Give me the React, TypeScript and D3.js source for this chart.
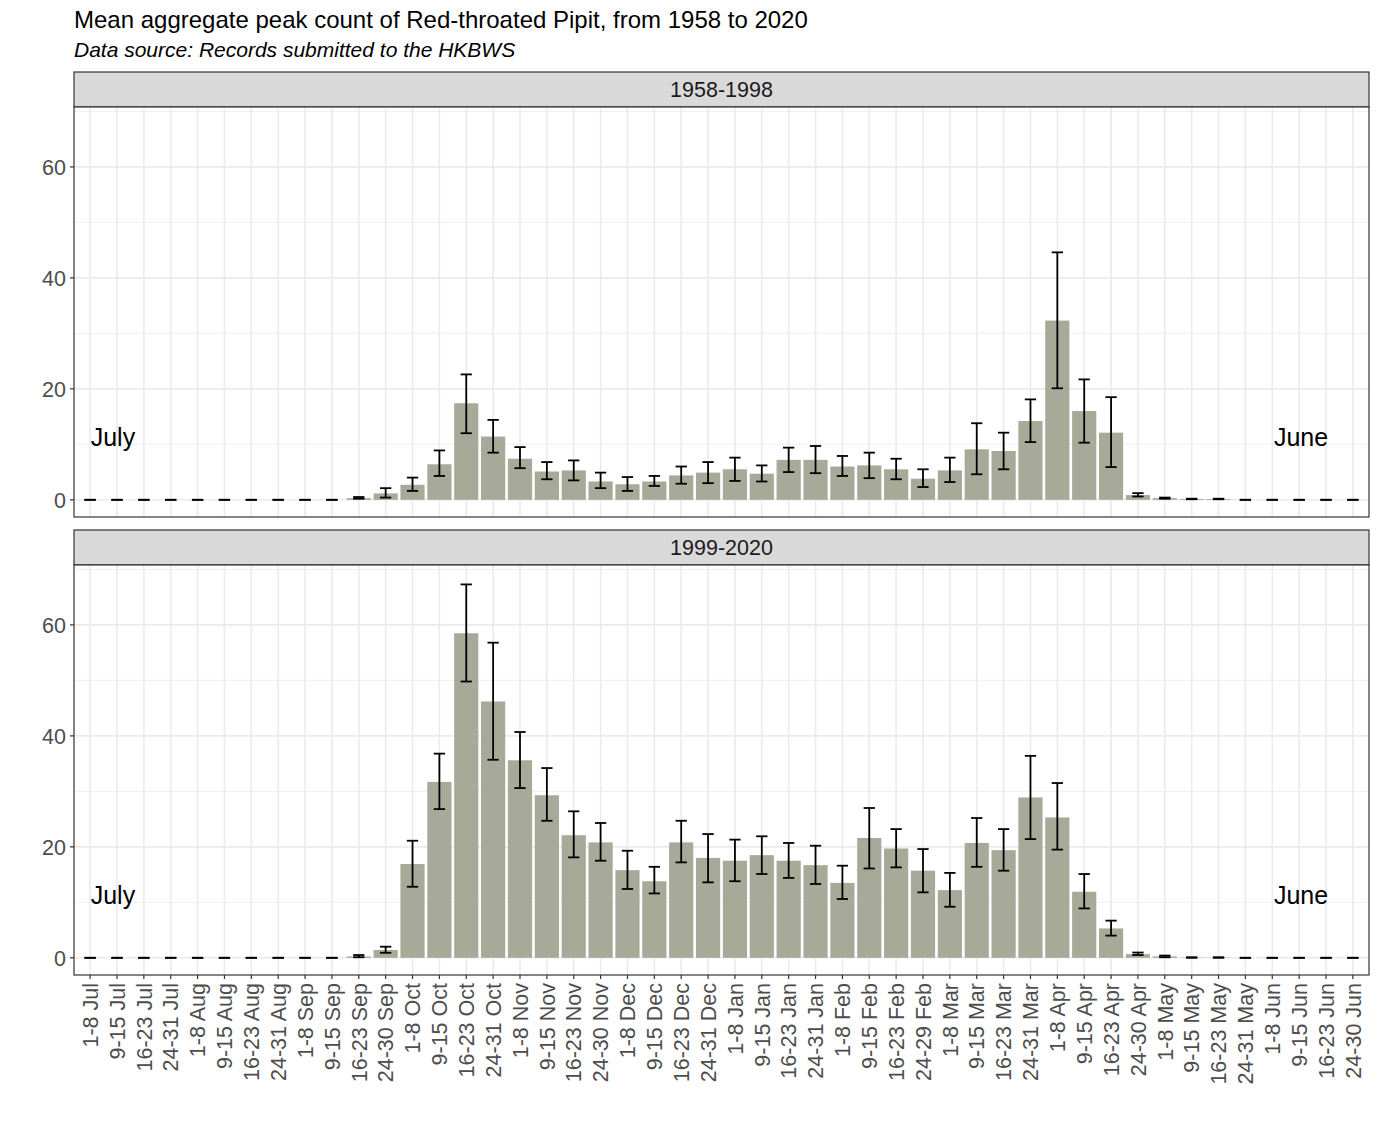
import * as d3 from "d3"

// 4 weekly bins per month, July to June
const months = ["Jul", "Aug", "Sep", "Oct", "Nov", "Dec", "Jan", "Feb", "Mar", "Apr", "May", "Jun"]
const monthEnds = [31, 31, 30, 31, 30, 31, 31, 29, 31, 30, 31, 30]
const categories: string[] = []
months.forEach((m, i) => {
  categories.push(`1-8 ${m}`, `9-15 ${m}`, `16-23 ${m}`, `24-${monthEnds[i]} ${m}`)
})

const mean1958 = [
  0, 0, 0, 0, 0, 0, 0, 0, 0, 0, 0.3, 1.15,
  2.7, 6.4, 17.4, 11.4, 7.4, 5.1, 5.3, 3.3, 2.8, 3.3, 4.4, 4.9,
  5.5, 4.7, 7.2, 7.2, 6.0, 6.2, 5.5, 3.8, 5.3, 9.1, 8.8, 14.2,
  32.3, 16.0, 12.1, 0.85, 0.3, 0.15, 0.15, 0, 0, 0, 0, 0,
]
const lo1958 = [
  0, 0, 0, 0, 0, 0, 0, 0, 0, 0, 0.2, 0.4,
  1.6, 4.3, 12.0, 8.5, 5.7, 3.7, 3.5, 2.1, 1.6, 2.5, 2.9, 3.0,
  3.4, 3.3, 5.0, 4.8, 4.3, 3.9, 3.7, 2.3, 3.2, 4.6, 5.5, 10.4,
  20.1, 10.3, 5.9, 0.6, 0.2, 0.1, 0.1, 0, 0, 0, 0, 0,
]
const hi1958 = [
  0, 0, 0, 0, 0, 0, 0, 0, 0, 0, 0.5, 2.1,
  4.0, 8.9, 22.6, 14.4, 9.5, 6.8, 7.1, 4.9, 4.1, 4.3, 6.0, 6.8,
  7.6, 6.2, 9.4, 9.7, 7.9, 8.5, 7.4, 5.5, 7.6, 13.8, 12.1, 18.1,
  44.6, 21.7, 18.5, 1.2, 0.4, 0.2, 0.2, 0, 0, 0, 0, 0,
]

const mean1999 = [
  0, 0, 0, 0, 0, 0, 0, 0, 0, 0, 0.25, 1.4,
  16.9, 31.7, 58.5, 46.2, 35.6, 29.3, 22.1, 20.8, 15.8, 13.8, 20.8, 18.0,
  17.5, 18.5, 17.5, 16.7, 13.5, 21.6, 19.7, 15.7, 12.2, 20.7, 19.4, 28.9,
  25.3, 11.9, 5.3, 0.66, 0.25, 0.05, 0.05, 0, 0, 0, 0, 0,
]
const lo1999 = [
  0, 0, 0, 0, 0, 0, 0, 0, 0, 0, 0.1, 0.9,
  12.8, 26.8, 49.8, 35.7, 30.6, 24.7, 18.1, 17.5, 12.4, 11.6, 17.2, 13.6,
  13.8, 15.1, 14.4, 13.3, 10.6, 16.1, 16.3, 11.8, 9.2, 16.4, 15.7, 21.4,
  19.5, 8.9, 4.0, 0.5, 0.1, 0, 0, 0, 0, 0, 0, 0,
]
const hi1999 = [
  0, 0, 0, 0, 0, 0, 0, 0, 0, 0, 0.5, 2.0,
  21.1, 36.8, 67.3, 56.8, 40.7, 34.2, 26.4, 24.3, 19.3, 16.4, 24.7, 22.3,
  21.3, 21.9, 20.7, 20.2, 16.6, 27.0, 23.2, 19.6, 15.3, 25.2, 23.2, 36.4,
  31.5, 15.1, 6.7, 0.95, 0.4, 0.1, 0.1, 0, 0, 0, 0, 0,
]

const panels = [
  { label: "1958-1998", mean: mean1958, lo: lo1958, hi: hi1958 },
  { label: "1999-2020", mean: mean1999, lo: lo1999, hi: hi1999 },
]

const yTicks = [0, 20, 40, 60]
const yMinor = [10, 30, 50, 70]

const W = 1379
const H = 1128
const font = "'Liberation Sans', Arial, sans-serif"
const left = 74
const right = 1369
const stripH = 35
const panelH = 410
const panelTops = [107, 565]

export default function App() {
  const x = d3.scalePoint<string>().domain(categories).range([left, right]).padding(0.6)
  const step = x.step()
  const barW = step * 0.9
  const capW = step * 0.42

  const y = d3.scaleLinear().domain([-3.1, 70.8]).range([panelH, 0])

  return (
    <div style={{ position: "absolute", left: 0, top: 0 }}>
      <svg width={W} height={H} xmlns="http://www.w3.org/2000/svg" style={{ display: "block", background: "white" }}>
        <text x={left} y={28} fontFamily={font} fontSize={24} fill="#000">
          Mean aggregate peak count of Red-throated Pipit, from 1958 to 2020
        </text>
        <text x={left} y={57} fontFamily={font} fontSize={21} fontStyle="italic" fill="#000">
          Data source: Records submitted to the HKBWS
        </text>

        {panels.map((p, pi) => {
          const top = panelTops[pi]
          return (
            <g key={p.label}>
              {/* strip */}
              <rect x={left} y={top - stripH} width={right - left} height={stripH} fill="#D9D9D9" stroke="#333" strokeWidth={1.2} />
              <text x={(left + right) / 2} y={top - stripH / 2} dy="0.36em" textAnchor="middle"
                fontFamily={font} fontSize={21.5} fill="#1A1A1A">{p.label}</text>

              <g transform={`translate(0,${top})`}>
                <rect x={left} y={0} width={right - left} height={panelH} fill="white" />
                {/* grid */}
                {yMinor.map(t => (
                  <line key={"m" + t} x1={left} x2={right} y1={y(t)} y2={y(t)} stroke="#EBEBEB" strokeWidth={0.8} />
                ))}
                {yTicks.map(t => (
                  <line key={"t" + t} x1={left} x2={right} y1={y(t)} y2={y(t)} stroke="#EBEBEB" strokeWidth={1.6} />
                ))}
                {categories.map(c => (
                  <line key={c} x1={x(c)} x2={x(c)} y1={0} y2={panelH} stroke="#EBEBEB" strokeWidth={1.6} />
                ))}

                {/* bars */}
                {categories.map((c, i) => (
                  <rect key={"b" + c} x={(x(c) as number) - barW / 2} width={barW}
                    y={y(p.mean[i])} height={y(0) - y(p.mean[i])} fill="#A7A999" />
                ))}

                {/* error bars */}
                {categories.map((c, i) => {
                  const cx = x(c) as number
                  return (
                    <g key={"e" + c} stroke="#000" strokeWidth={1.8}>
                      <line x1={cx} x2={cx} y1={y(p.hi[i])} y2={y(p.lo[i])} />
                      <line x1={cx - capW / 2} x2={cx + capW / 2} y1={y(p.hi[i])} y2={y(p.hi[i])} />
                      <line x1={cx - capW / 2} x2={cx + capW / 2} y1={y(p.lo[i])} y2={y(p.lo[i])} />
                    </g>
                  )
                })}

                {/* month annotations */}
                <text x={(x(categories[0]) as number) + step * 0.85} y={y(11.3)} dy="0.36em" textAnchor="middle"
                  fontFamily={font} fontSize={25} fill="#000">July</text>
                <text x={(x(categories[45]) as number) + step * 0.07} y={y(11.3)} dy="0.36em" textAnchor="middle"
                  fontFamily={font} fontSize={25} fill="#000">June</text>

                {/* y axis */}
                {yTicks.map(t => (
                  <g key={"yt" + t}>
                    <line x1={left - 4} x2={left} y1={y(t)} y2={y(t)} stroke="#333" strokeWidth={1.2} />
                    <text x={left - 8} y={y(t)} dy="0.36em" textAnchor="end" fontFamily={font} fontSize={21.5} fill="#4D4D4D">{t}</text>
                  </g>
                ))}

                <rect x={left} y={0} width={right - left} height={panelH} fill="none" stroke="#333" strokeWidth={1.2} />
              </g>
            </g>
          )
        })}

        {/* x axis (bottom panel only) */}
        {categories.map(c => {
          const cx = x(c) as number
          const base = panelTops[1] + panelH
          return (
            <g key={"xl" + c}>
              <line x1={cx} x2={cx} y1={base} y2={base + 4} stroke="#333" strokeWidth={1.2} />
              <text transform={`translate(${cx},${base + 8}) rotate(-90)`} dy="0.36em" textAnchor="end"
                fontFamily={font} fontSize={21.5} fill="#4D4D4D">{c}</text>
            </g>
          )
        })}
      </svg>
    </div>
  )
}
